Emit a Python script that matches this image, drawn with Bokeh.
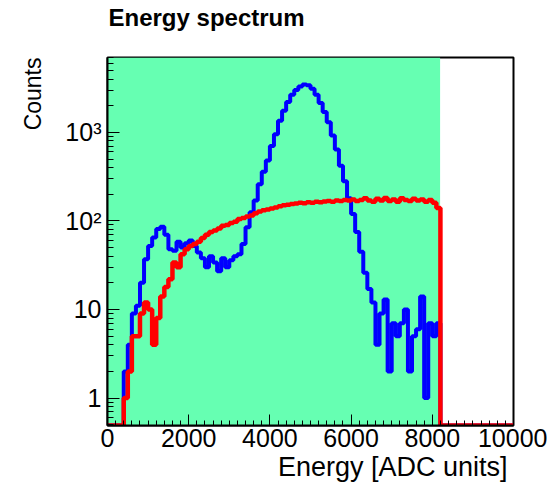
import numpy as np
from bokeh.plotting import figure
from bokeh.models import Range1d, FixedTicker, Title, BoxAnnotation, LinearAxis
from bokeh.embed import file_html
from bokeh.resources import INLINE

# ---- data ----
bin_width = 100
x_max = 10000
window_end = 8192  # end of ADC window (shaded)
y_min, y_max = 0.49, 7000

blue_counts = [0, 0, 0, 0, 2, 4, 9, 11, 20, 37,
               52, 65, 81, 86, 70, 48, 46, 58, 50, 56,
               60, 52, 44, 38, 30, 40, 34, 27, 38, 30,
               36, 40, 42, 55, 85, 125, 170, 260, 360, 480,
               700, 950, 1350, 1750, 2200, 2650, 3000, 3300, 3480, 3400,
               3100, 2650, 2150, 1700, 1300, 920, 640, 420, 280, 180,
               120, 75, 45, 26, 17, 12, 4, 9, 13, 2,
               7, 5, 7, 10, 2, 5, 6, 14, 1, 7,
               5, 7]

red_counts = [0, 0, 0, 0, 1, 2, 5, 5, 9, 12,
              10, 4, 8, 14, 18, 22, 34, 30, 42, 48,
              52, 55, 58, 64, 70, 75, 78, 82, 88, 90,
              95, 98, 105, 108, 112, 115, 122, 128, 132, 135,
              138, 142, 146, 150, 152, 155, 157, 160, 158, 162,
              160, 165, 163, 166, 168, 165, 170, 168, 172, 170,
              175, 168, 172, 180, 170, 165, 178, 170, 182, 168,
              175, 165, 180, 172, 168, 178, 170, 175, 165, 172,
              160, 140]

x_tick_values = [0, 2000, 4000, 6000, 8000, 10000]
y_tick_values = [1, 10, 100, 1000]
y_tick_labels = {1: "1", 10: "10", 100: "10\u00b2", 1000: "10\u00b3"}

title_text = "Energy spectrum"
x_label = "Energy [ADC units]"
y_label = "Counts"

FONT = "Liberation Sans"

# ---- helpers ----
n_bins = x_max // bin_width
edges = np.arange(0, x_max + bin_width, bin_width)


def step_xy(counts):
    c = np.zeros(n_bins)
    c[:len(counts)] = counts
    c = np.where(c > 0, c, y_min)
    xs = np.repeat(edges, 2)[1:-1]
    ys = np.repeat(c, 2)
    return xs, ys


p = figure(width=547, height=487, y_axis_type="log",
           x_range=Range1d(0, x_max), y_range=Range1d(y_min, y_max),
           output_backend="svg", toolbar_location=None,
           min_border_left=107, min_border_right=34,
           min_border_top=57, min_border_bottom=62)

p.background_fill_color = "white"
p.border_fill_color = "white"
p.outline_line_color = "black"
p.outline_line_width = 2
p.xgrid.visible = False
p.ygrid.visible = False
p.title.text = ""

p.add_layout(BoxAnnotation(left=0, right=window_end, fill_color="#66FFB2",
                           fill_alpha=1.0, line_color=None, level="underlay"))

bx, by = step_xy(blue_counts)
rx, ry = step_xy(red_counts)
p.line(bx, by, line_color="#0000FF", line_width=4)
p.line(rx, ry, line_color="#FF0000", line_width=4.5)

# ---- bottom x axis (styled before any extra axis is added) ----
xa = p.below[0]
xa.ticker = FixedTicker(ticks=x_tick_values,
                        minor_ticks=[v for v in range(0, x_max + 1, 200) if v % 2000])
xa.major_tick_in = 11
xa.major_tick_out = 0
xa.minor_tick_in = 5
xa.minor_tick_out = 0
xa.major_label_text_font = FONT
xa.major_label_text_font_size = "25px"
xa.major_label_text_color = "black"
xa.major_label_standoff = 3
xa.axis_line_color = "black"
xa.axis_line_width = 2

# ---- y axis ----
ya = p.left[0]
minor_y = [m * 10.0 ** e for e in range(-1, 4) for m in range(2, 10)]
minor_y = [v for v in minor_y if y_min <= v <= y_max]
ya.ticker = FixedTicker(ticks=y_tick_values, minor_ticks=minor_y)
ya.major_label_overrides = y_tick_labels
ya.major_tick_in = 12
ya.major_tick_out = 0
ya.minor_tick_in = 6
ya.minor_tick_out = 0
ya.major_label_text_font = FONT
ya.major_label_text_font_size = "25px"
ya.major_label_text_color = "black"
ya.major_label_standoff = 6
ya.axis_line_color = "black"
ya.axis_line_width = 2

# ---- title: the single label of an invisible axis above the frame,
# left-aligned with the frame (label centred at ~24% of the x span) ----
title_pos = 0.244 * x_max
title_axis = LinearAxis(ticker=FixedTicker(ticks=[title_pos], minor_ticks=[]),
                        major_label_overrides={title_pos: title_text})
title_axis.axis_line_color = None
title_axis.major_tick_line_color = None
title_axis.minor_tick_line_color = None
title_axis.major_tick_out = 0
title_axis.major_tick_in = 0
title_axis.major_label_standoff = 27
title_axis.major_label_text_font = FONT
title_axis.major_label_text_font_size = "24px"
title_axis.major_label_text_font_style = "bold"
title_axis.major_label_text_color = "black"
p.add_layout(title_axis, "above")

p.add_layout(Title(text=y_label, align="right", text_font=FONT,
                   text_font_size="23px", text_font_style="normal",
                   text_color="black", standoff=34), "left")
p.add_layout(Title(text=x_label, align="right", text_font=FONT,
                   text_font_size="27px", text_font_style="normal",
                   text_color="black", standoff=0, offset=6), "below")

open("out.html", "w").write(file_html(p, INLINE))
